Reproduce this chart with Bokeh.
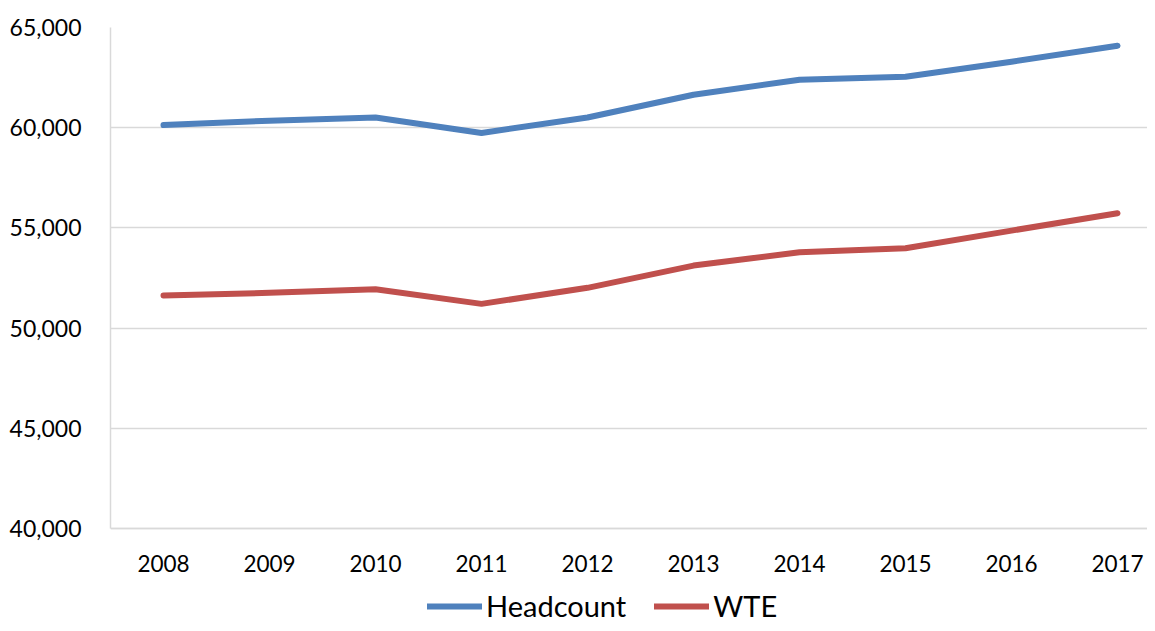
from bokeh.plotting import figure
from bokeh.models import Range1d, FixedTicker, NumeralTickFormatter, Legend, LegendItem
from bokeh.embed import file_html
from bokeh.resources import INLINE

years = [2008, 2009, 2010, 2011, 2012, 2013, 2014, 2015, 2016, 2017]
headcount = [60130, 60350, 60510, 59740, 60510, 61645, 62395, 62540, 63290, 64090]
wte = [51625, 51760, 51940, 51210, 52010, 53120, 53785, 53985, 54865, 55730]
y_ticks = [40000, 45000, 50000, 55000, 60000, 65000]

FONT = "Lato"
LEFT, TOP, W, H = 110, 27, 1147, 623
Y_MIN, Y_MAX = 40000, 65000
PX_PER_UNIT = 501.0 / (Y_MAX - Y_MIN)          # 25,000 spans ~501 px
Y_START = Y_MAX - (H - TOP) / PX_PER_UNIT       # frame extends under the x axis to hold the legend

p = figure(width=W, height=H, output_backend="svg", toolbar_location=None,
           x_range=Range1d(2007.5, 2007.5 + (W - LEFT) / 106.0),
           y_range=Range1d(Y_START, Y_MAX),
           min_border_left=LEFT, min_border_right=0, min_border_top=TOP, min_border_bottom=0)
p.outline_line_color = None
p.background_fill_color = "white"
p.border_fill_color = "white"

# x axis sits on the 40,000 line
p.xaxis.fixed_location = Y_MIN
p.xaxis.ticker = FixedTicker(ticks=years)
p.xaxis.major_tick_line_color = None
p.xaxis.minor_tick_line_color = None
p.xaxis.axis_line_color = "#D9D9D9"
p.xaxis.axis_line_width = 1.5
p.xaxis.major_label_standoff = 20
p.xaxis.major_label_text_font = FONT
p.xaxis.major_label_text_font_size = "22.5px"
p.xaxis.major_label_text_color = "#000000"

p.yaxis.bounds = (Y_MIN, Y_MAX)
p.yaxis.ticker = FixedTicker(ticks=y_ticks)
p.yaxis.formatter = NumeralTickFormatter(format="0,0")
p.yaxis.major_tick_line_color = None
p.yaxis.minor_tick_line_color = None
p.yaxis.axis_line_color = "#D9D9D9"
p.yaxis.axis_line_width = 1.5
p.yaxis.major_label_standoff = 23
p.yaxis.major_label_text_font = FONT
p.yaxis.major_label_text_font_size = "23px"
p.yaxis.major_label_text_color = "#000000"

p.xgrid.grid_line_color = None
p.ygrid.ticker = FixedTicker(ticks=y_ticks)
p.ygrid.grid_line_color = "#D9D9D9"
p.ygrid.grid_line_width = 1.5

r1 = p.line(years, headcount, line_color="#4F81BD", line_width=6, line_cap="round", line_join="round")
r2 = p.line(years, wte, line_color="#C0504D", line_width=6, line_cap="round", line_join="round")

legend = Legend(items=[LegendItem(label="Headcount", renderers=[r1]),
                       LegendItem(label="WTE", renderers=[r2])],
                orientation="horizontal", location=(317, 0),
                padding=0, margin=0, spacing=28, label_standoff=4,
                glyph_width=55, glyph_height=24, label_height=24,
                border_line_color=None, background_fill_alpha=0,
                label_text_font=FONT, label_text_font_size="29px",
                label_text_color="#000000")
p.add_layout(legend, "center")

open("out.html", "w").write(file_html(p, INLINE))
